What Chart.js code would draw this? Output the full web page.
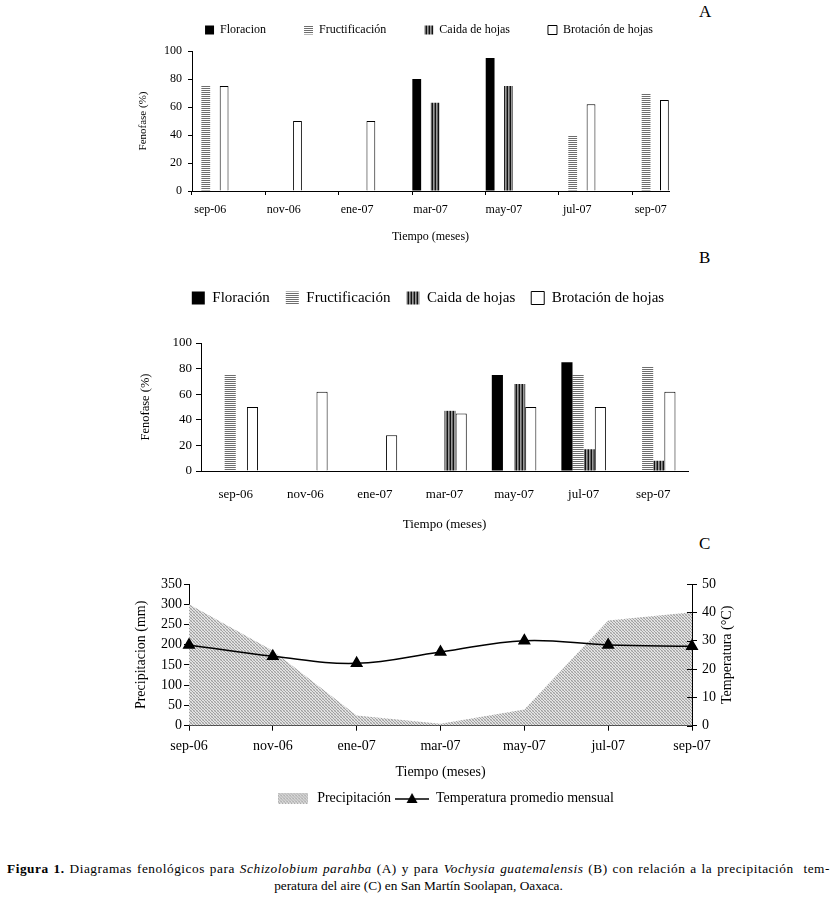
<!DOCTYPE html>
<html lang="es">
<head>
<meta charset="UTF-8">
<meta name="viewport" content="width=device-width, initial-scale=1.0">
<title>Figura 1 - Diagramas fenológicos</title>
<script src="https://cdn.jsdelivr.net/npm/chart.js"></script>
<style>
  body { margin: 0; background: #fff; font-family: 'Liberation Serif', serif; color: #000; }
  .panel { position: absolute; }
  .letra { position: absolute; left: 699px; font-size: 17px; }
  .pie { position: absolute; font-size: 13.3px; line-height: 17px; white-space: nowrap; }
  #pie1 { left: 7px; top: 860px; width: 823px; letter-spacing: 0.55px; text-align: justify; text-align-last: justify; }
  #pie2 { left: 0; top: 877px; width: 837px; text-align: center; }
</style>
</head>
<body>
<div class="letra" style="top:2px">A</div>
<div class="letra" style="top:248px">B</div>
<div class="letra" style="top:534px">C</div>

<div class="panel" style="left:120px;top:-14px;width:618px;height:264px"><canvas id="chartA"></canvas></div>
<div class="panel" style="left:120px;top:255px;width:616px;height:285px"><canvas id="chartB"></canvas></div>
<div class="panel" style="left:110px;top:570px;width:650px;height:250px"><canvas id="chartC"></canvas></div>

<div class="pie" id="pie1"><b>Figura 1.</b> Diagramas fenológicos para <i>Schizolobium parahba</i> (A) y para <i>Vochysia guatemalensis</i> (B) con relación a la precipitación&nbsp; tem-</div>
<div class="pie" id="pie2">peratura del aire (C) en San Martín Soolapan, Oaxaca.</div>

<script>
// meses muestreados (cada dos meses)
const meses = ['sep-06', 'nov-06', 'ene-07', 'mar-07', 'may-07', 'jul-07', 'sep-07'];

// A: Schizolobium parahba (%)
const floracionA = [null, null, null, 80, 95, null, null];
const fructA     = [75, null, null, null, null, 40, 70];
const caidaA     = [null, null, null, 63, 75, null, null];
const brotA      = [75, 50, 50, null, null, 62, 65];

// B: Vochysia guatemalensis (%)
const floracionB = [null, null, null, null, 75, 85, null];
const fructB     = [75, null, null, null, null, 75, 82];
const caidaB     = [null, null, null, 47, 68, 17, 8];
const brotB      = [50, 62, 28, 45, 50, 50, 62];

// C: clima
const precipitacion = [300, 185, 25, 5, 40, 260, 280];   // mm
const temperatura   = [28.5, 24.5, 22, 26, 30, 28.5, 28]; // °C

Chart.defaults.font.family = "'Liberation Serif', serif";
Chart.defaults.color = '#000';
Chart.defaults.animation = false;

// en A el eje es mensual: un hueco vacio entre cada mes muestreado
const mensual = arr => arr.flatMap((v, i) => i < arr.length - 1 ? [v, null] : [v]);
const mesesA = meses.flatMap((m, i) => i < meses.length - 1 ? [m, ''] : [m]);

// tramas
function teja(w, h, pintar) {
    const c = document.createElement('canvas');
    c.width = w; c.height = h;
    pintar(c.getContext('2d'));
    return c;
}
const tejaH = teja(2, 2, g => { g.fillStyle = '#fff'; g.fillRect(0, 0, 2, 2); g.fillStyle = '#6e6e6e'; g.fillRect(0, 0, 2, 1); });
const tejaV = teja(3, 1, g => { g.fillStyle = '#111'; g.fillRect(0, 0, 1, 1); g.fillStyle = '#999'; g.fillRect(1, 0, 1, 1); g.fillStyle = '#666'; g.fillRect(2, 0, 1, 1); });
const tejaP = teja(3, 3, g => {
    g.fillStyle = '#e4e4e4'; g.fillRect(0, 0, 3, 3);
    g.fillStyle = '#a0a0a0'; g.fillRect(0, 0, 1, 1); g.fillRect(1, 1, 1, 1); g.fillRect(2, 2, 1, 1);
    g.fillStyle = '#c8c8c8'; g.fillRect(2, 0, 1, 1); g.fillRect(0, 2, 1, 1);
});

function fenoDatasets(ctx, flor, fruct, caida, brot, nombres) {
    return [
        { label: nombres[0], data: flor, backgroundColor: '#000', borderWidth: 0 },
        { label: nombres[1], data: fruct, backgroundColor: ctx.createPattern(tejaH, 'repeat'), borderWidth: 0 },
        { label: nombres[2], data: caida, backgroundColor: ctx.createPattern(tejaV, 'repeat'), borderWidth: 0 },
        { label: nombres[3], data: brot, backgroundColor: '#fff', borderColor: '#000', borderWidth: 1 }
    ];
}

// ---------- A ----------
const ctxA = document.getElementById('chartA').getContext('2d');
new Chart(ctxA, {
    type: 'bar',
    data: {
        labels: mesesA,
        datasets: fenoDatasets(ctxA, mensual(floracionA), mensual(fructA), mensual(caidaA), mensual(brotA),
            ['Floracion', 'Fructificación', 'Caida de hojas', 'Brotación de hojas'])
    },
    options: {
        responsive: true,
        maintainAspectRatio: false,
        datasets: { bar: { categoryPercentage: 1, barPercentage: 0.96 } },
        layout: { padding: 0 },
        plugins: {
            legend: { position: 'top', weight: 3000, labels: { boxWidth: 9, boxHeight: 9, padding: 38, font: { size: 12 } } },
            title: { display: true, text: '', font: { size: 1 }, padding: { top: 0, bottom: 3.8 } },
            tooltip: { enabled: false }
        },
        scales: {
            x: {
                grid: { offset: true, drawOnChartArea: false, tickLength: 4, color: c => c.index % 2 === 0 ? '#000' : 'rgba(0,0,0,0)' },
                border: { color: '#000' },
                ticks: { autoSkip: false, maxRotation: 0, padding: 8, font: { size: 12 } },
                title: { display: true, text: 'Tiempo (meses)', font: { size: 12 }, padding: { top: 0, bottom: 5.8 } },
                afterFit: s => { s.height = 59; }
            },
            y: {
                min: 0, max: 100,
                ticks: { stepSize: 20, padding: 6, font: { size: 12 } },
                grid: { drawOnChartArea: false, tickLength: 4, color: '#000' },
                border: { color: '#000' },
                title: { display: true, text: 'Fenofase (%)', font: { size: 11 }, padding: { top: 16.4, bottom: 0 } },
                afterFit: s => { s.width = 72; }
            },
            derecha: {
                type: 'linear', position: 'right', min: 0, max: 1,
                grid: { display: false }, border: { display: false }, ticks: { display: false },
                afterFit: s => { s.width = 69; }
            }
        }
    }
});

// ---------- B ----------
const ctxB = document.getElementById('chartB').getContext('2d');
new Chart(ctxB, {
    type: 'bar',
    data: {
        labels: meses,
        datasets: fenoDatasets(ctxB, floracionB, fructB, caidaB, brotB,
            ['Floración', 'Fructificación', 'Caida de hojas', 'Brotación de hojas'])
    },
    options: {
        responsive: true,
        maintainAspectRatio: false,
        datasets: { bar: { categoryPercentage: 0.64, barPercentage: 1 } },
        layout: { padding: { top: 19.5 } },
        plugins: {
            legend: { position: 'top', weight: 3000, labels: { boxWidth: 13, boxHeight: 13, padding: 16, font: { size: 15 } } },
            title: { display: true, text: '', font: { size: 1 }, padding: { top: 0, bottom: 26.3 } },
            tooltip: { enabled: false }
        },
        scales: {
            x: {
                grid: { display: false },
                border: { color: '#000' },
                ticks: { maxRotation: 0, padding: 8, font: { size: 13 } },
                title: { display: true, text: 'Tiempo (meses)', font: { size: 13 }, padding: { top: 0, bottom: 7.2 } },
                afterFit: s => { s.height = 69; }
            },
            y: {
                min: 0, max: 100,
                ticks: { stepSize: 20, padding: 4, font: { size: 13 } },
                grid: { drawOnChartArea: false, tickLength: 5, color: '#000' },
                border: { color: '#000' },
                title: { display: true, text: 'Fenofase (%)', font: { size: 12.5 }, padding: { top: 18.5, bottom: 0 } },
                afterFit: s => { s.width = 81; }
            },
            derecha: {
                type: 'linear', position: 'right', min: 0, max: 1,
                grid: { display: false }, border: { display: false }, ticks: { display: false },
                afterFit: s => { s.width = 48; }
            }
        }
    }
});

// ---------- C ----------
const ctxC = document.getElementById('chartC').getContext('2d');
const imgPrecip = teja(30, 11, g => { g.fillStyle = g.createPattern(tejaP, 'repeat'); g.fillRect(0, 0, 30, 11); });
const imgTemp = teja(34, 12, g => {
    g.strokeStyle = '#000'; g.lineWidth = 1.5;
    g.beginPath(); g.moveTo(0, 7); g.lineTo(34, 7); g.stroke();
    g.fillStyle = '#000';
    g.beginPath(); g.moveTo(17, 1); g.lineTo(22.5, 11); g.lineTo(11.5, 11); g.closePath(); g.fill();
});

const tituloDerecho = {
    id: 'tituloDerecho',
    afterDraw(chart) {
        const s = chart.scales.y1, c = chart.ctx;
        c.save();
        c.font = "14px 'Liberation Serif'";
        c.fillStyle = '#000';
        c.textAlign = 'center';
        c.textBaseline = 'middle';
        c.translate(s.right - 33, (s.top + s.bottom) / 2);
        c.rotate(-Math.PI / 2);
        c.fillText('Temperatura (°C)', 0, 0);
        c.restore();
        // marcas del eje derecho cruzan hacia dentro tambien
        c.save();
        c.strokeStyle = '#000';
        c.lineWidth = 1;
        s.ticks.forEach(t => {
            const y = Math.round(s.getPixelForValue(t.value)) + 0.5;
            c.beginPath(); c.moveTo(s.left - 5, y); c.lineTo(s.left, y); c.stroke();
        });
        c.restore();
    }
};

new Chart(ctxC, {
    type: 'line',
    data: {
        labels: meses,
        datasets: [
            {
                label: 'Precipitación', data: precipitacion, yAxisID: 'y', order: 2,
                fill: 'origin', backgroundColor: ctxC.createPattern(tejaP, 'repeat'),
                borderWidth: 0, pointRadius: 0, tension: 0
            },
            {
                label: 'Temperatura promedio mensual', data: temperatura, yAxisID: 'y1', order: 1,
                borderColor: '#000', borderWidth: 1.5, tension: 0.4, fill: false,
                pointStyle: 'triangle', pointRadius: 6, pointBackgroundColor: '#000', pointBorderColor: '#000'
            }
        ]
    },
    options: {
        responsive: true,
        maintainAspectRatio: false,
        layout: { padding: { top: 14, left: 20, right: 0, bottom: 5 } },
        plugins: {
            legend: {
                position: 'bottom',
                labels: {
                    usePointStyle: true, pointStyleWidth: 34, padding: 4, font: { size: 14 },
                    generateLabels: () => [
                        { text: 'Precipitación', pointStyle: imgPrecip, datasetIndex: 0, lineWidth: 0, fillStyle: '#fff', strokeStyle: '#fff' },
                        { text: 'Temperatura promedio mensual', pointStyle: imgTemp, datasetIndex: 1, lineWidth: 0, fillStyle: '#fff', strokeStyle: '#fff' }
                    ]
                }
            },
            tooltip: { enabled: false }
        },
        scales: {
            x: {
                offset: false,
                grid: { drawOnChartArea: false, tickLength: 5, color: '#000' },
                border: { color: '#000' },
                ticks: { maxRotation: 0, padding: 7, font: { size: 14 } },
                title: { display: true, text: 'Tiempo (meses)', font: { size: 14 }, padding: { top: 0, bottom: 6.6 } },
                afterFit: s => { s.height = 61.3; }
            },
            y: {
                min: 0, max: 350,
                ticks: { stepSize: 50, padding: 2, font: { size: 14 } },
                grid: { drawOnChartArea: false, tickLength: 5, color: '#000' },
                border: { color: '#000' },
                title: { display: true, text: 'Precipitacion (mm)', font: { size: 14 }, padding: { top: 2.6, bottom: 0 } },
                afterFit: s => { s.width = 59; }
            },
            y1: {
                position: 'right', min: 0, max: 50,
                ticks: { stepSize: 10, padding: 5, font: { size: 14 } },
                grid: { drawOnChartArea: false, tickLength: 5, color: '#000' },
                border: { color: '#000' },
                afterFit: s => { s.width = 68; }
            }
        }
    },
    plugins: [tituloDerecho]
});
</script>
</body>
</html>
